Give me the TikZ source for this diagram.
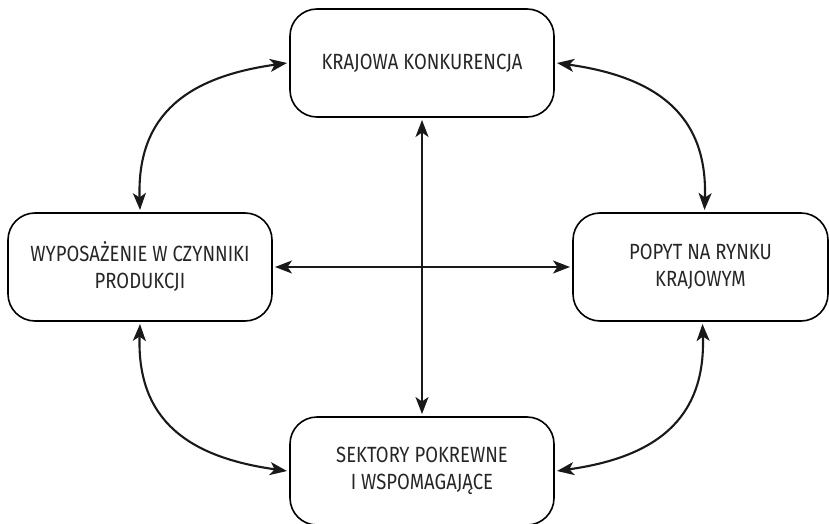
\documentclass[tikz,border=0pt]{standalone}
\usepackage{fontspec}
\setmainfont{Fira Sans}[FakeStretch=0.84]
\usetikzlibrary{arrows.meta}
\begin{document}
\begin{tikzpicture}[x=1pt,y=1pt,
  factor/.style={draw, line width=1.6pt, rounded corners=27pt,
    minimum width=264pt, minimum height=108pt, align=center,
    font=\fontsize{22}{27}\selectfont, text=black!85, outer sep=3pt},
  link/.style={line width=2.1pt, black!90,
    {Stealth[length=17pt,width=13pt,inset=4.5pt]}-{Stealth[length=17pt,width=13pt,inset=4.5pt]}}
]
\useasboundingbox (0,0) rectangle (829,523);

% the four factors
\node[factor] (top)    at (422,460) {KRAJOWA KONKURENCJA};
\node[factor] (left)   at (140,256) {WYPOSAŻENIE W CZYNNIKI\\PRODUKCJI};
\node[factor, minimum width=255pt] (right) at (700.5,256) {POPYT NA RYNKU\\KRAJOWYM};
\node[factor] (bottom) at (422,52)  {SEKTORY POKREWNE\\I WSPOMAGAJĄCE};

% straight cross links
\draw[link] (top.south) -- (bottom.north);
\draw[link] (left.east) -- (right.west);

% curved links round the outside
\draw[link] (top.west) to[out=188,in=92,looseness=1.2] (left.north);
\draw[link] (top.east) to[out=-8,in=88,looseness=1.2] ([xshift=4pt]right.north);
\draw[link] (left.south) to[out=-92,in=172,looseness=1.2] (bottom.west);
\draw[link] ([xshift=2pt]right.south) to[out=-88,in=8,looseness=1.2] (bottom.east);
\end{tikzpicture}
\end{document}
